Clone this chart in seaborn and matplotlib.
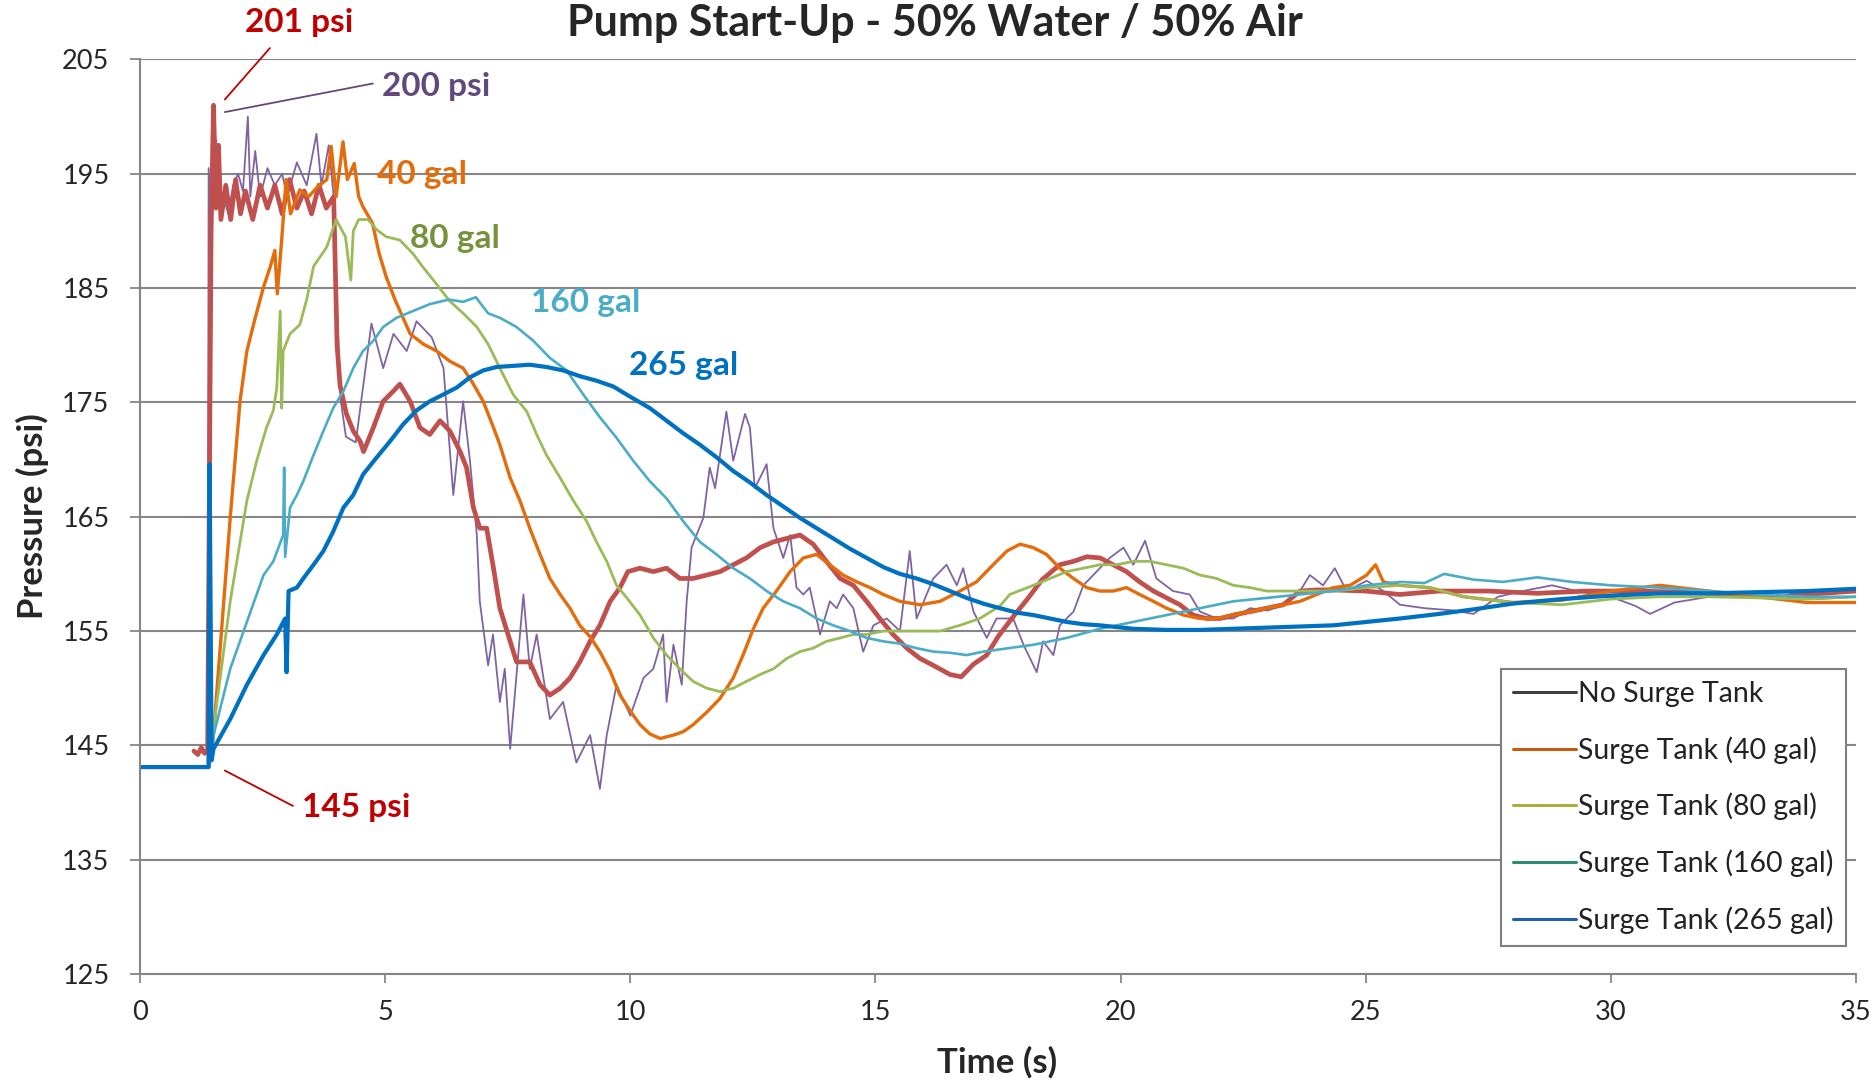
import matplotlib
matplotlib.use("Agg")
import matplotlib.pyplot as plt
from matplotlib.lines import Line2D
import seaborn as sns
import pandas as pd

# ---------------- data (time s, pressure psi) ----------------
no_surge_pts = [(0, 143.1), (1.38, 143.1), (1.40, 195.5), (1.45, 190.0), (1.50, 196.5), (1.55, 198.0),
    (1.60, 192.0), (1.70, 193.0), (1.80, 191.5), (1.90, 194.0), (2.00, 195.0), (2.10, 193.5),
    (2.20, 200.0), (2.25, 193.0), (2.35, 197.0), (2.45, 193.0), (2.60, 195.5), (2.75, 194.0),
    (2.90, 195.0), (3.00, 193.0), (3.20, 196.0), (3.40, 194.0), (3.60, 198.5), (3.70, 194.0),
    (3.85, 197.5), (3.95, 193.0), (4.00, 185.0), (4.10, 175.0), (4.20, 172.0), (4.40, 171.5),
    (4.72, 181.9), (4.96, 178.0), (5.17, 181.0), (5.44, 179.5), (5.64, 182.1), (5.95, 180.7),
    (6.19, 178.0), (6.39, 166.9), (6.59, 175.1), (6.73, 169.9), (6.87, 163.4), (6.93, 157.6),
    (7.10, 152.0), (7.20, 154.7), (7.34, 148.8), (7.44, 151.7), (7.55, 144.7), (7.82, 158.2),
    (7.95, 151.7), (8.09, 154.7), (8.36, 147.3), (8.63, 148.8), (8.90, 143.5), (9.18, 145.9),
    (9.38, 141.2), (9.52, 145.9), (9.72, 150.3), (10.0, 147.6), (10.27, 150.9), (10.47, 151.7),
    (10.67, 154.7), (10.74, 148.8), (10.88, 153.8), (11.05, 150.3), (11.15, 157.6), (11.25, 162.3),
    (11.49, 164.9), (11.62, 169.3), (11.73, 167.5), (11.96, 174.2), (12.10, 169.9), (12.34, 174.0),
    (12.44, 172.8), (12.54, 167.5), (12.68, 168.7), (12.78, 169.6), (12.92, 164.0), (13.12, 161.4),
    (13.26, 163.4), (13.39, 158.8), (13.53, 158.2), (13.66, 158.8), (13.87, 154.7), (14.07, 157.6),
    (14.21, 157.0), (14.34, 158.2), (14.55, 157.0), (14.75, 153.2), (14.96, 155.5), (15.23, 156.1),
    (15.50, 155.0), (15.70, 162.0), (15.84, 156.1), (16.18, 159.6), (16.45, 160.8), (16.66, 159.0),
    (16.79, 160.5), (17.00, 156.7), (17.27, 154.4), (17.47, 156.1), (17.81, 156.1), (18.02, 153.8),
    (18.29, 151.4), (18.42, 154.1), (18.63, 152.9), (18.76, 155.5), (19.04, 156.7), (19.24, 159.0),
    (19.51, 160.2), (19.78, 161.4), (20.06, 162.3), (20.26, 160.8), (20.50, 162.9), (20.73, 159.6),
    (21.07, 158.5), (21.41, 158.2), (21.62, 156.7), (21.96, 156.1), (22.30, 156.1), (22.64, 157.0),
    (23.00, 156.8), (23.32, 157.3), (23.66, 158.5), (23.86, 159.9), (24.13, 159.0), (24.37, 160.5),
    (24.61, 158.5), (25.02, 159.4), (25.36, 158.5), (25.70, 157.3), (26.20, 157.0), (26.80, 156.8),
    (27.20, 156.5), (27.70, 158.0), (28.20, 158.5), (28.80, 159.0), (29.30, 158.5), (30.00, 158.0),
    (30.50, 157.2), (30.80, 156.5), (31.30, 157.5), (32.00, 158.0), (32.80, 158.3), (33.50, 158.5),
    (34.20, 157.8), (35.00, 158.0)]

red_pts = [(1.10, 144.5), (1.18, 144.2), (1.25, 144.8), (1.32, 144.3), (1.38, 144.6), (1.45, 190.0),
    (1.50, 201.0), (1.55, 192.0), (1.60, 197.5), (1.65, 191.0), (1.75, 194.0), (1.85, 191.0),
    (1.95, 194.5), (2.05, 191.5), (2.15, 193.5), (2.30, 191.0), (2.45, 194.0), (2.60, 192.0),
    (2.75, 194.0), (2.90, 191.5), (3.05, 194.5), (3.20, 192.0), (3.35, 193.5), (3.50, 191.5),
    (3.65, 194.0), (3.80, 192.0), (3.95, 193.0), (4.02, 180.0), (4.08, 176.5), (4.21, 174.0),
    (4.35, 172.5), (4.49, 171.6), (4.56, 170.7), (4.76, 172.8), (4.96, 175.1), (5.17, 176.0),
    (5.30, 176.6), (5.51, 175.1), (5.71, 172.8), (5.91, 172.2), (6.12, 173.4), (6.32, 172.5),
    (6.53, 170.7), (6.66, 169.3), (6.80, 165.8), (6.93, 164.0), (7.07, 164.0), (7.21, 160.5),
    (7.34, 157.0), (7.55, 154.1), (7.68, 152.3), (7.95, 152.3), (8.16, 150.3), (8.36, 149.4),
    (8.57, 150.0), (8.77, 150.9), (8.97, 152.3), (9.18, 154.1), (9.38, 155.5), (9.59, 157.6),
    (9.79, 158.8), (9.95, 160.2), (10.20, 160.5), (10.47, 160.2), (10.74, 160.5), (11.01, 159.6),
    (11.28, 159.6), (11.56, 159.9), (11.83, 160.2), (12.10, 160.8), (12.37, 161.4), (12.65, 162.3),
    (12.92, 162.8), (13.19, 163.1), (13.46, 163.4), (13.73, 162.6), (14.00, 161.1), (14.28, 159.6),
    (14.55, 159.0), (14.82, 157.6), (15.09, 156.1), (15.36, 154.7), (15.64, 153.5), (15.91, 152.6),
    (16.18, 152.0), (16.52, 151.2), (16.75, 151.0), (17.00, 152.1), (17.27, 152.9), (17.50, 154.5),
    (17.80, 156.2), (18.10, 157.8), (18.40, 159.5), (18.76, 160.8), (19.04, 161.1), (19.31, 161.5),
    (19.58, 161.4), (19.85, 160.8), (20.12, 160.2), (20.39, 159.3), (20.67, 158.5), (20.94, 157.9),
    (21.21, 157.3), (21.48, 156.4), (21.75, 156.1), (22.03, 156.1), (22.30, 156.4), (22.64, 156.7),
    (22.98, 157.0), (23.32, 157.3), (23.66, 158.5), (24.00, 158.6), (24.34, 158.6), (25.00, 158.5),
    (25.70, 158.2), (26.50, 158.5), (27.50, 158.5), (28.50, 158.3), (29.50, 158.5), (30.50, 158.5),
    (31.50, 158.4), (32.50, 158.2), (33.50, 158.0), (34.30, 158.3), (35.00, 158.5)]

tank40_pts = [(0, 143.1), (1.40, 143.1), (1.42, 169.6), (1.45, 143.7), (1.50, 146.0), (1.84, 164.9),
    (2.04, 175.1), (2.18, 179.5), (2.35, 182.4), (2.52, 185.1), (2.66, 186.9), (2.75, 188.3),
    (2.80, 184.5), (2.89, 189.2), (2.98, 194.5), (3.07, 191.5), (3.26, 193.6), (3.44, 193.0),
    (3.63, 193.9), (3.81, 194.5), (3.90, 197.4), (4.00, 193.0), (4.14, 197.8), (4.23, 194.5),
    (4.37, 195.9), (4.46, 193.0), (4.55, 192.1), (4.74, 190.7), (4.88, 188.0), (5.02, 186.0),
    (5.20, 184.0), (5.51, 181.0), (5.78, 180.1), (6.05, 179.5), (6.32, 178.6), (6.59, 178.0),
    (6.80, 176.6), (7.00, 175.1), (7.21, 172.8), (7.34, 171.3), (7.55, 168.4), (7.75, 166.4),
    (7.95, 164.0), (8.16, 161.7), (8.36, 159.6), (8.57, 158.2), (8.77, 157.0), (8.97, 155.5),
    (9.18, 154.5), (9.38, 153.2), (9.59, 151.5), (9.79, 149.4), (10.00, 148.0), (10.20, 146.8),
    (10.40, 146.0), (10.61, 145.6), (10.88, 145.9), (11.08, 146.2), (11.28, 146.8), (11.56, 147.9),
    (11.83, 149.1), (12.10, 150.9), (12.30, 152.9), (12.51, 155.2), (12.71, 157.0), (12.98, 158.5),
    (13.26, 160.2), (13.53, 161.4), (13.80, 161.7), (14.07, 160.8), (14.34, 159.9), (14.62, 159.3),
    (14.89, 158.8), (15.16, 158.2), (15.50, 157.6), (15.91, 157.3), (16.32, 157.6), (16.72, 158.5),
    (17.06, 159.3), (17.40, 160.8), (17.68, 162.0), (17.95, 162.6), (18.22, 162.3), (18.49, 161.7),
    (18.76, 160.5), (19.04, 159.6), (19.31, 158.8), (19.58, 158.5), (19.85, 158.5), (20.12, 158.8),
    (20.39, 158.2), (20.67, 157.6), (20.94, 157.0), (21.28, 156.4), (21.62, 156.1), (21.96, 156.1),
    (22.30, 156.4), (22.64, 156.7), (22.98, 157.0), (23.32, 157.3), (23.66, 157.6), (24.00, 158.2),
    (24.34, 158.8), (24.68, 159.0), (25.02, 159.9), (25.20, 160.8), (25.36, 159.3), (25.70, 159.0),
    (26.30, 158.8), (27.00, 158.0), (28.00, 157.5), (29.00, 157.7), (30.00, 158.5), (31.00, 159.0),
    (32.00, 158.5), (33.00, 158.0), (34.00, 157.5), (35.00, 157.5)]

tank80_pts = [(0, 143.1), (1.40, 143.1), (1.45, 144.0), (1.50, 146.5), (1.84, 157.6), (2.18, 166.4),
    (2.38, 169.9), (2.58, 172.8), (2.72, 174.3), (2.79, 176.3), (2.86, 183.0), (2.89, 174.5),
    (2.92, 179.5), (3.06, 181.0), (3.26, 181.8), (3.40, 184.0), (3.54, 186.9), (3.81, 188.6),
    (4.00, 191.0), (4.19, 189.5), (4.30, 185.7), (4.35, 190.0), (4.46, 191.0), (4.65, 191.0),
    (4.83, 190.1), (5.02, 189.5), (5.30, 189.2), (5.57, 188.0), (5.76, 186.9), (6.04, 185.4),
    (6.31, 183.9), (6.59, 182.8), (6.87, 181.6), (7.10, 180.1), (7.34, 178.0), (7.61, 175.7),
    (7.89, 174.2), (8.09, 172.2), (8.29, 170.4), (8.57, 168.4), (8.84, 166.4), (9.11, 164.6),
    (9.31, 162.8), (9.52, 161.1), (9.72, 159.0), (9.93, 157.9), (10.20, 156.4), (10.47, 154.4),
    (10.74, 152.9), (11.01, 151.7), (11.28, 150.6), (11.56, 150.0), (11.83, 149.7), (12.10, 150.0),
    (12.37, 150.6), (12.65, 151.2), (12.92, 151.7), (13.19, 152.6), (13.46, 153.2), (13.73, 153.5),
    (14.00, 154.1), (14.28, 154.4), (14.55, 154.7), (14.82, 154.7), (15.16, 155.0), (15.50, 155.0),
    (15.91, 155.0), (16.32, 155.0), (16.72, 155.5), (17.13, 156.1), (17.54, 157.2), (17.74, 158.2),
    (18.22, 159.0), (18.56, 159.6), (18.90, 160.2), (19.24, 160.5), (19.58, 160.8), (19.92, 160.8),
    (20.26, 161.1), (20.60, 161.1), (20.94, 160.8), (21.28, 160.5), (21.62, 159.9), (21.96, 159.6),
    (22.30, 159.0), (22.64, 158.8), (22.98, 158.5), (23.66, 158.5), (24.34, 158.5), (25.02, 158.8),
    (25.70, 159.0), (26.30, 158.8), (27.00, 158.0), (28.00, 157.5), (29.00, 157.3), (30.00, 157.8),
    (31.00, 158.0), (32.00, 158.0), (33.00, 157.9), (34.00, 157.8), (35.00, 158.0)]

tank160_pts = [(0, 143.1), (1.40, 143.1), (1.45, 144.0), (1.50, 145.9), (1.84, 151.7), (2.18, 155.8),
    (2.52, 159.9), (2.72, 161.1), (2.92, 163.4), (2.94, 169.3), (2.96, 161.5), (3.06, 165.8),
    (3.20, 166.9), (3.33, 168.1), (3.54, 170.4), (3.74, 172.5), (3.94, 174.5), (4.15, 176.0),
    (4.35, 178.0), (4.55, 179.5), (4.76, 180.4), (4.96, 181.6), (5.23, 182.4), (5.57, 183.0),
    (5.91, 183.6), (6.30, 184.0), (6.59, 183.8), (6.85, 184.2), (7.10, 182.8), (7.34, 182.4),
    (7.68, 181.6), (8.02, 180.4), (8.36, 178.9), (8.70, 177.8), (9.04, 175.7), (9.38, 173.7),
    (9.72, 171.9), (10.06, 169.9), (10.40, 168.1), (10.74, 166.6), (11.08, 164.6), (11.42, 162.8),
    (11.76, 161.7), (12.10, 160.5), (12.44, 159.6), (12.78, 158.5), (13.12, 157.6), (13.46, 157.0),
    (13.80, 156.1), (14.14, 155.5), (14.48, 155.0), (14.82, 154.4), (15.16, 154.1), (15.50, 153.9),
    (15.84, 153.5), (16.18, 153.2), (16.52, 153.1), (16.86, 152.9), (17.20, 153.2), (17.54, 153.4),
    (18.22, 153.8), (18.90, 154.4), (19.58, 155.2), (20.26, 155.8), (20.94, 156.4), (21.62, 157.0),
    (22.30, 157.6), (22.98, 157.9), (23.66, 158.2), (24.34, 158.5), (25.02, 159.0), (25.70, 159.3),
    (26.20, 159.2), (26.60, 160.0), (27.20, 159.5), (27.80, 159.3), (28.50, 159.7), (29.20, 159.3),
    (30.00, 159.0), (31.00, 158.8), (32.00, 158.5), (33.00, 158.2), (34.00, 158.0), (35.00, 158.0)]

tank265_pts = [(0, 143.1), (1.40, 143.1), (1.42, 169.6), (1.46, 143.7), (1.50, 144.7), (1.84, 147.3),
    (2.18, 150.3), (2.52, 152.9), (2.79, 154.7), (2.96, 156.1), (2.99, 151.4), (3.03, 158.5),
    (3.20, 158.8), (3.33, 159.6), (3.54, 160.8), (3.74, 162.0), (3.94, 163.7), (4.15, 165.8),
    (4.35, 166.9), (4.55, 168.7), (4.83, 170.2), (5.10, 171.6), (5.37, 173.1), (5.64, 174.3),
    (5.91, 175.1), (6.19, 175.7), (6.46, 176.3), (6.73, 177.2), (7.00, 177.8), (7.27, 178.1),
    (7.61, 178.2), (7.95, 178.3), (8.29, 178.1), (8.63, 177.8), (8.97, 177.3), (9.31, 176.9),
    (9.65, 176.4), (10.00, 175.5), (10.40, 174.5), (10.74, 173.4), (11.08, 172.3), (11.42, 171.3),
    (11.76, 170.2), (12.10, 169.0), (12.44, 168.0), (12.78, 166.9), (13.12, 165.9), (13.46, 164.9),
    (13.80, 164.0), (14.14, 163.1), (14.48, 162.2), (14.82, 161.4), (15.16, 160.6), (15.50, 160.0),
    (15.84, 159.6), (16.18, 159.1), (16.52, 158.5), (16.86, 157.9), (17.20, 157.4), (17.54, 157.0),
    (17.90, 156.6), (18.22, 156.4), (18.56, 156.1), (18.90, 155.8), (19.24, 155.6), (19.58, 155.5),
    (20.26, 155.2), (20.94, 155.1), (21.62, 155.1), (22.30, 155.2), (22.98, 155.3), (23.66, 155.4),
    (24.34, 155.5), (25.02, 155.8), (25.70, 156.1), (26.50, 156.5), (27.20, 156.9), (28.00, 157.4),
    (29.00, 157.8), (30.00, 158.1), (31.00, 158.3), (32.00, 158.3), (33.00, 158.4), (34.00, 158.5),
    (35.00, 158.7)]

legend_labels = ["No Surge Tank", "Surge Tank (40 gal)", "Surge Tank (80 gal)",
                 "Surge Tank (160 gal)", "Surge Tank (265 gal)"]
y_ticks = [125, 135, 145, 155, 165, 175, 185, 195, 205]
x_ticks = [0, 5, 10, 15, 20, 25, 30, 35]
title = "Pump Start-Up - 50% Water / 50% Air"

# ---------------- styling ----------------
sns.set_theme(style="white")
plt.rcParams["font.family"] = ["Lato", "DejaVu Sans"]

W, H = 1874, 1083
fig = plt.figure(figsize=(W / 100, H / 100), dpi=100)
ax = fig.add_axes([140 / W, 1 - 974 / H, (1856 - 140) / W, (974 - 59.5) / H])

grey = "#868686"
series = [
    (no_surge_pts, "#8064A2", 1.3),
    (red_pts, "#C0504D", 3.4),
    (tank40_pts, "#E46C0A", 2.4),
    (tank80_pts, "#9BBB59", 2.0),
    (tank160_pts, "#4BACC6", 1.9),
    (tank265_pts, "#0070C0", 3.0),
]
for pts, col, lw in series:
    df = pd.DataFrame(pts, columns=["t", "p"])
    sns.lineplot(data=df, x="t", y="p", ax=ax, color=col, linewidth=lw,
                 estimator=None, sort=False, legend=False)

ax.set_xlim(0, 35)
ax.set_ylim(125, 205)
ax.set_xticks(x_ticks)
ax.set_yticks(y_ticks)
ax.set_xticklabels([str(v) for v in x_ticks])
ax.set_yticklabels([str(v) for v in y_ticks])
ax.yaxis.grid(True, color=grey, linewidth=1.5)
ax.xaxis.grid(False)
ax.set_axisbelow(True)
for s in ["top", "right"]:
    ax.spines[s].set_visible(False)
for s in ["left", "bottom"]:
    ax.spines[s].set_color(grey)
    ax.spines[s].set_linewidth(1.5)
ax.tick_params(axis="x", direction="out", length=6.5, width=1.3, color=grey,
               labelsize=19.5, pad=12, bottom=True)
ax.tick_params(axis="y", direction="out", length=7, width=1.3, color=grey,
               labelsize=19.5, pad=15, left=True)
ax.set_xlabel("")
ax.set_ylabel("")

fig.text(997 / W, 1 - 1062 / H, "Time (s)", ha="center", va="center",
         fontsize=25, fontweight="bold")
fig.text(32 / W, 1 - 516 / H, "Pressure (psi)", ha="center", va="center",
         rotation=90, fontsize=25, fontweight="bold")
fig.text(935 / W, 1 - 36 / H, title, ha="center", va="baseline",
         fontsize=31, fontweight="bold")

# annotations
ann_size = 24
ax.text(3.24, 208.2, "201 psi", color="#C00000", fontsize=ann_size, fontweight="bold",
        ha="center", va="center", clip_on=False)
ax.plot([1.73, 2.65], [201.5, 206.0], color="#C00000", lw=1.3, clip_on=False)
ax.text(6.04, 202.6, "200 psi", color="#604A7B", fontsize=ann_size, fontweight="bold",
        ha="center", va="center", clip_on=False)
ax.plot([1.73, 4.75], [200.4, 202.9], color="#604A7B", lw=1.3, clip_on=False)
ax.text(4.41, 139.6, "145 psi", color="#C00000", fontsize=ann_size, fontweight="bold",
        ha="center", va="center")
ax.plot([1.73, 3.12], [142.8, 139.7], color="#C00000", lw=1.3)
ax.text(5.75, 194.9, "40 gal", color="#E46C0A", fontsize=ann_size, fontweight="bold",
        ha="center", va="center")
ax.text(6.43, 189.3, "80 gal", color="#76923C", fontsize=ann_size, fontweight="bold",
        ha="center", va="center")
ax.text(9.09, 183.7, "160 gal", color="#4BACC6", fontsize=ann_size, fontweight="bold",
        ha="center", va="center")
ax.text(11.09, 178.2, "265 gal", color="#0070C0", fontsize=ann_size, fontweight="bold",
        ha="center", va="center")

# legend
leg_colors = ["#3F3F3F", "#C55A11", "#A9AE3E", "#2E8B74", "#1F5FAF"]
handles = [Line2D([0], [0], color=c, lw=2.2) for c in leg_colors]
leg = fig.legend(handles, legend_labels, loc="upper left",
                 bbox_to_anchor=(1501 / W, 1 - 669 / H), fontsize=20.5,
                 frameon=True, fancybox=False, framealpha=1, edgecolor="#7F7F7F",
                 borderpad=0.42, labelspacing=1.02, handlelength=2.2,
                 handletextpad=0.1, borderaxespad=0)
leg.get_frame().set_linewidth(1.5)
for txt in leg.get_texts():
    txt.set_color("#222222")

fig.savefig("out.png", dpi=100)
